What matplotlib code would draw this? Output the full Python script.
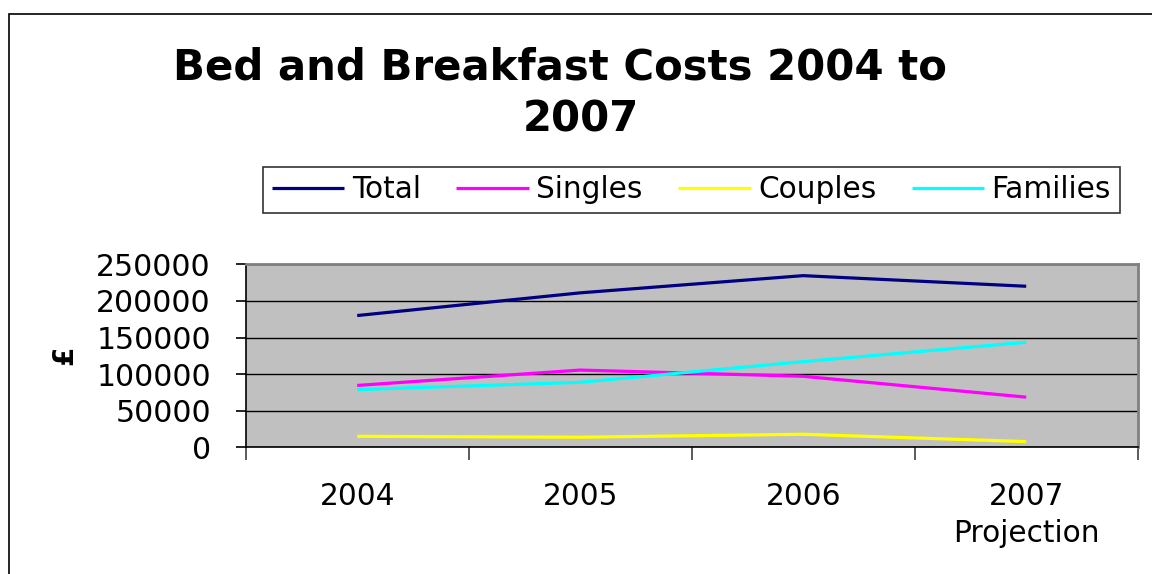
import matplotlib
matplotlib.use("Agg")
import matplotlib.pyplot as plt
from matplotlib.patches import Rectangle
from matplotlib.ticker import FixedLocator, NullFormatter

categories = ["2004", "2005", "2006", "2007\nProjection"]
total = [180000, 211000, 234500, 220000]
singles = [84500, 105500, 97000, 68500]
couples = [15000, 13800, 17800, 7800]
families = [78800, 88800, 117000, 143500]
y_ticks = [0, 50000, 100000, 150000, 200000, 250000]
title_lines = ["Bed and Breakfast Costs 2004 to", "2007"]

plt.rcParams['font.family'] = ['DejaVu Sans']

fig = plt.figure(figsize=(11.52, 5.74), dpi=100)
fig.patch.set_facecolor('white')

# chart area border (extends beyond crop on right/bottom)
fig.patches.append(Rectangle((9/1152, -0.1), 1.2, 1 - 14/574 + 0.1,
                             transform=fig.transFigure, fill=False,
                             edgecolor='black', linewidth=1.2))

ax = fig.add_axes([245.7/1152, 1 - 447.3/574, (1137.7-245.7)/1152, (447.3-264.3)/574])
ax.set_facecolor('#C0C0C0')

x = list(range(len(categories)))
ax.plot(x, total, color='#000080', lw=2.3, label='Total', solid_capstyle='butt')
ax.plot(x, singles, color='#FF00FF', lw=2.3, label='Singles', solid_capstyle='butt')
ax.plot(x, couples, color='#FFFF00', lw=2.3, label='Couples', solid_capstyle='butt')
ax.plot(x, families, color='#00FFFF', lw=2.3, label='Families', solid_capstyle='butt')

ax.set_xlim(-0.5, len(categories) - 0.5)
ax.set_ylim(0, 250000)
ax.set_yticks(y_ticks)
ax.set_yticklabels([str(v) for v in y_ticks])
ax.yaxis.grid(True, color='black', linewidth=1)
ax.set_axisbelow(True)

ax.set_xticks(x)
ax.set_xticklabels(categories, fontsize=21.3, linespacing=1.33)
ax.xaxis.set_minor_locator(FixedLocator([i - 0.5 for i in range(len(categories) + 1)]))
ax.xaxis.set_minor_formatter(NullFormatter())
ax.tick_params(axis='x', which='major', length=0, pad=25)
ax.tick_params(axis='x', which='minor', length=9, width=1.2, color='#404040', direction='out')
ax.tick_params(axis='y', which='major', length=7, width=1.2, labelsize=21.5, pad=18, direction='out')

for side in ['top', 'right']:
    ax.spines[side].set_color('#808080')
    ax.spines[side].set_linewidth(2)
for side in ['left', 'bottom']:
    ax.spines[side].set_color('black')
    ax.spines[side].set_linewidth(1.2)

ax.set_ylabel('£', fontsize=20, fontweight='bold', labelpad=13)

fig.text(560/1152, 1 - 79/574, title_lines[0], ha='center', va='baseline',
         fontsize=30.2, fontweight='bold')
fig.text(581/1152, 1 - 131/574, title_lines[1], ha='center', va='baseline',
         fontsize=30.2, fontweight='bold')

leg = fig.legend(loc='center', bbox_to_anchor=(691.5/1152, 1 - 190/574),
                 ncol=4, fontsize=21.3, frameon=True, fancybox=False,
                 handlelength=2.45, handletextpad=0.25, columnspacing=1.2,
                 borderpad=0.3, borderaxespad=0)
leg.get_frame().set_edgecolor('black')
leg.get_frame().set_linewidth(1.2)
for line in leg.get_lines():
    line.set_linewidth(2.3)

fig.savefig('out.png', dpi=100)
